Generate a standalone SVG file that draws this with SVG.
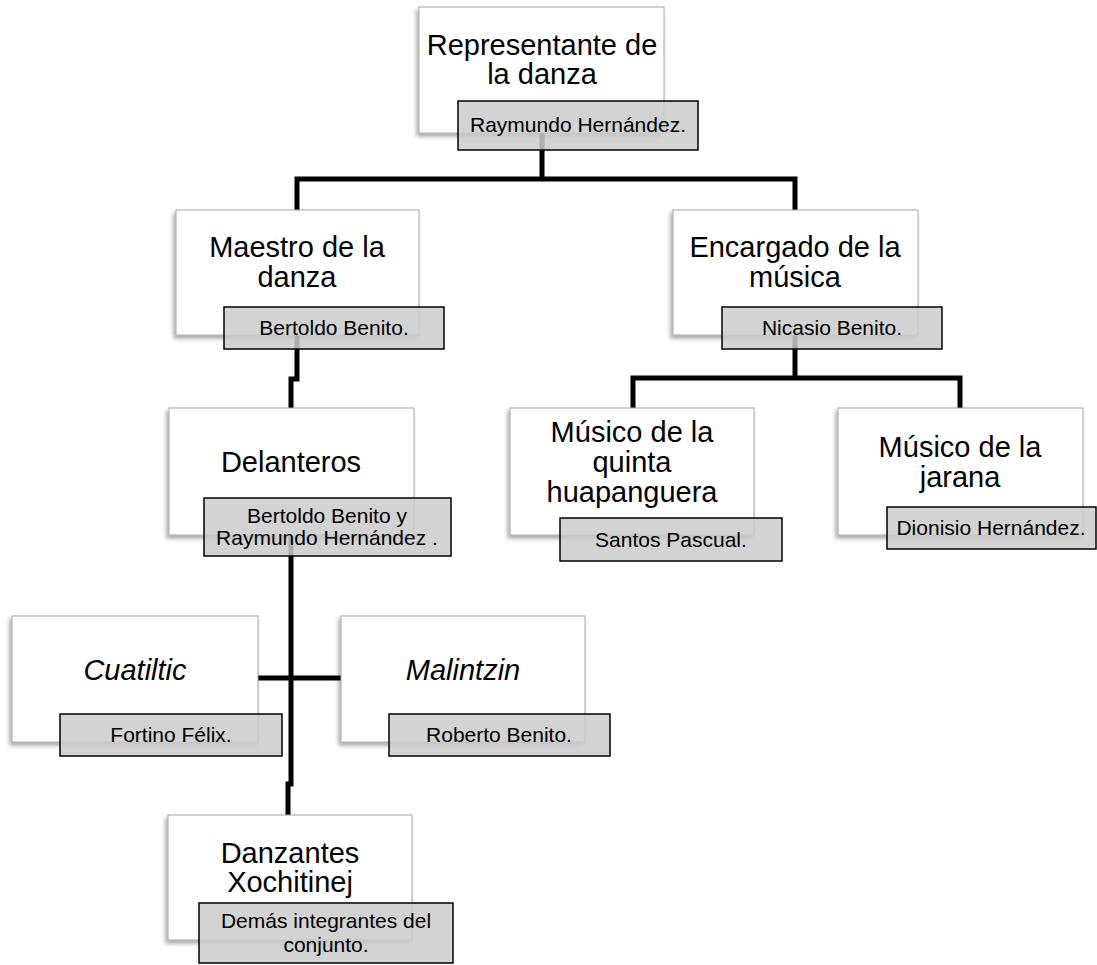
<svg xmlns="http://www.w3.org/2000/svg" width="1097" height="965" viewBox="0 0 1097 965">
  <defs>
    <filter id="sh" x="-10%" y="-10%" width="120%" height="125%">
      <feDropShadow dx="-2" dy="3" stdDeviation="2" flood-color="#000" flood-opacity="0.35"/>
    </filter>
    <style>
      .box{fill:#fff;stroke:#a6a6a6;stroke-width:1;filter:url(#sh)}
      .tag{fill:#cbcbcb;fill-opacity:.85;stroke:#000;stroke-width:1.5}
      .t{font-family:"Liberation Sans",Arial,sans-serif;font-size:29px;fill:#000;text-anchor:middle}
      .s{font-size:21px}
      .i{font-style:italic}
      .ln{stroke:#000;stroke-width:5;fill:none;stroke-linejoin:miter}
    </style>
  </defs>
  <rect width="1097" height="965" fill="#fff"/>

  <!-- org chart links -->
  <g id="connectors" class="ln">
    <path d="M542,133 V179"/>
    <path d="M297,210 V179 H795 V210"/>
    <path d="M297,335 V379 H291 V408"/>
    <path d="M795,335 V378"/>
    <path d="M633,408 V378 H960 V408"/>
    <path d="M291,535 V784 H288 V815"/>
    <path d="M258,678 H341"/>
  </g>

  <g id="representante">
    <rect class="box" x="419" y="7" width="245" height="126"/>
    <text class="t" x="542" y="55">Representante de</text>
    <text class="t" x="542" y="84">la danza</text>
    <rect class="tag" x="458" y="101" width="240" height="49"/>
    <text class="t s" x="578" y="132">Raymundo Hernández.</text>
  </g>

  <g id="maestro">
    <rect class="box" x="176" y="210" width="243" height="125"/>
    <text class="t" x="297" y="257">Maestro de la</text>
    <text class="t" x="297" y="287">danza</text>
    <rect class="tag" x="224" y="307" width="220" height="42"/>
    <text class="t s" x="334" y="335">Bertoldo Benito.</text>
  </g>

  <g id="encargado">
    <rect class="box" x="673" y="210" width="245" height="125"/>
    <text class="t" x="795" y="257">Encargado de la</text>
    <text class="t" x="795" y="287">música</text>
    <rect class="tag" x="722" y="307" width="220" height="42"/>
    <text class="t s" x="832" y="335">Nicasio Benito.</text>
  </g>

  <g id="delanteros">
    <rect class="box" x="169" y="408" width="245" height="127"/>
    <text class="t" x="291" y="472">Delanteros</text>
    <rect class="tag" x="204" y="498" width="247" height="58"/>
    <text class="t s" x="327" y="523">Bertoldo Benito y</text>
    <text class="t s" x="327" y="545">Raymundo Hernández .</text>
  </g>

  <g id="quinta">
    <rect class="box" x="510" y="408" width="244" height="127"/>
    <text class="t" x="632" y="442">Músico de la</text>
    <text class="t" x="632" y="472">quinta</text>
    <text class="t" x="632" y="502">huapanguera</text>
    <rect class="tag" x="560" y="518" width="222" height="43"/>
    <text class="t s" x="671" y="547">Santos Pascual.</text>
  </g>

  <g id="jarana">
    <rect class="box" x="838" y="408" width="245" height="127"/>
    <text class="t" x="960" y="457">Músico de la</text>
    <text class="t" x="960" y="487">jarana</text>
    <rect class="tag" x="887" y="507" width="209" height="42"/>
    <text class="t s" x="991" y="535">Dionisio Hernández.</text>
  </g>

  <g id="cuatiltic">
    <rect class="box" x="12" y="616" width="246" height="126"/>
    <text class="t i" x="135" y="680">Cuatiltic</text>
    <rect class="tag" x="60" y="714" width="222" height="42"/>
    <text class="t s" x="171" y="742">Fortino Félix.</text>
  </g>

  <g id="malintzin">
    <rect class="box" x="341" y="616" width="244" height="126"/>
    <text class="t i" x="463" y="680">Malintzin</text>
    <rect class="tag" x="389" y="714" width="221" height="42"/>
    <text class="t s" x="499" y="742">Roberto Benito.</text>
  </g>

  <g id="danzantes">
    <rect class="box" x="168" y="815" width="244" height="125"/>
    <text class="t" x="290" y="863">Danzantes</text>
    <text class="t" x="290" y="892">Xochitinej</text>
    <rect class="tag" x="199" y="903" width="254" height="60"/>
    <text class="t s" x="326" y="928">Demás integrantes del</text>
    <text class="t s" x="326" y="952">conjunto.</text>
  </g>
</svg>
